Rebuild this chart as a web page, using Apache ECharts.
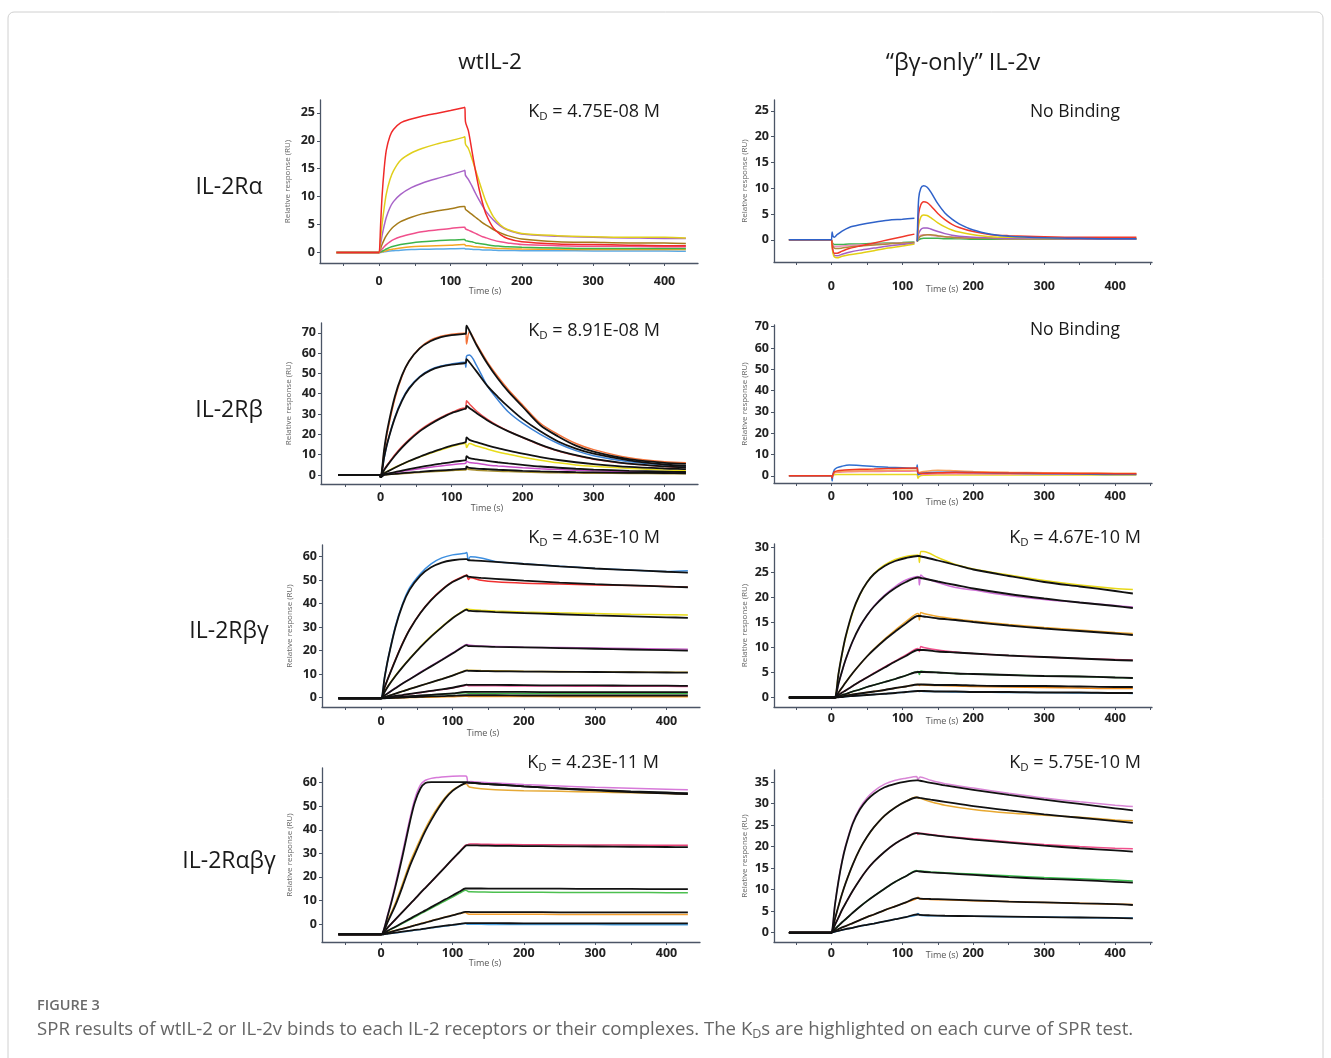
<!DOCTYPE html>
<html>
<head>
<meta charset="utf-8">
<title>SPR sensorgrams</title>
<script src="https://cdn.jsdelivr.net/npm/echarts@6.0.0/dist/echarts.min.js"></script>
<style>
  body { margin: 0; background: #fff; }
  #main { width: 1331px; height: 1058px; }
</style>
</head>
<body>
<div id="main"></div>
<script>
// ---- tick labels ----
var xLabelVals = [0, 100, 200, 300, 400];
var xTickVals = [-50, 0, 50, 100, 150, 200, 250, 300, 350, 400, 450];
var yLabels25 = [0, 5, 10, 15, 20, 25];
var yLabels70 = [0, 10, 20, 30, 40, 50, 60, 70];
var yLabels60 = [0, 10, 20, 30, 40, 50, 60];
var yLabels30 = [0, 5, 10, 15, 20, 25, 30];
var yLabels35 = [0, 5, 10, 15, 20, 25, 30, 35];

// ---- panel 1 : wtIL-2 / IL-2Ra ----
var t1 = [-60, -30, -1, 0, 2, 4, 7, 10, 15, 20, 30, 45, 60, 80, 100, 118, 120, 121, 125, 130, 135, 140, 145, 150, 160, 170, 180, 200, 250, 300, 350, 400, 430];
var p1Red = [0, 0, 0, 0, 5, 10, 15, 18.3, 20.8, 22, 23.2, 23.9, 24.4, 24.9, 25.4, 25.9, 26, 23.4, 21.8, 18.2, 14.6, 11.4, 8.8, 6.8, 4.4, 3.2, 2.5, 1.9, 1.5, 1.4, 1.3, 1.2, 1.2];
var p1Yellow = [0, 0, 0, 0, 2.5, 5, 8, 10.5, 13, 14.6, 16.5, 17.8, 18.6, 19.4, 20, 20.6, 20.7, 19.4, 18.6, 16.8, 14.8, 12.8, 10.8, 9.0, 6.4, 4.9, 4.1, 3.4, 3.0, 2.8, 2.7, 2.7, 2.6];
var p1Purple = [0, 0, 0, 0, 1.5, 3, 4.8, 6.3, 8, 9.1, 10.4, 11.6, 12.4, 13.2, 13.9, 14.6, 14.7, 13.8, 13.1, 11.9, 10.6, 9.4, 8.3, 7.3, 5.8, 4.7, 4.0, 3.3, 2.9, 2.7, 2.6, 2.5, 2.5];
var p1Brown = [0, 0, 0, 0, 0.7, 1.4, 2.3, 3.0, 3.9, 4.6, 5.5, 6.3, 6.9, 7.4, 7.8, 8.2, 8.2, 7.7, 7.3, 6.8, 6.3, 5.8, 5.3, 4.9, 4.1, 3.5, 3.0, 2.4, 1.9, 1.8, 1.7, 1.7, 1.6];
var p1Pink = [0, 0, 0, 0, 0.3, 0.6, 1.0, 1.4, 1.9, 2.3, 2.8, 3.3, 3.7, 4.0, 4.3, 4.5, 4.5, 4.2, 4.0, 3.7, 3.4, 3.1, 2.8, 2.6, 2.2, 1.9, 1.7, 1.4, 1.2, 1.1, 1.1, 1.0, 1.0];
var p1Green = [0, 0, 0, 0, 0.1, 0.2, 0.4, 0.6, 0.9, 1.1, 1.4, 1.7, 1.9, 2.1, 2.2, 2.3, 2.3, 2.1, 2.0, 1.9, 1.7, 1.6, 1.5, 1.4, 1.2, 1.1, 1.0, 0.9, 0.8, 0.7, 0.7, 0.7, 0.7];
var p1Orange = [0, 0, 0, 0, 0.05, 0.1, 0.2, 0.3, 0.5, 0.6, 0.8, 1.0, 1.1, 1.2, 1.3, 1.4, 1.4, 1.2, 1.2, 1.1, 1.0, 0.95, 0.9, 0.85, 0.75, 0.7, 0.65, 0.6, 0.55, 0.5, 0.5, 0.5, 0.5];
var p1Blue = [0, 0, 0, 0, 0, 0.05, 0.1, 0.15, 0.25, 0.3, 0.4, 0.5, 0.55, 0.6, 0.65, 0.7, 0.7, 0.6, 0.6, 0.55, 0.5, 0.5, 0.45, 0.45, 0.4, 0.35, 0.35, 0.3, 0.3, 0.25, 0.25, 0.25, 0.2];

// ---- panel 2 : IL-2v / IL-2Ra (no binding) ----
var t2 = [-60, -30, -1, 0, 1, 2, 4, 8, 15, 25, 40, 60, 80, 100, 117, 119, 121, 123, 126, 130, 135, 140, 150, 160, 170, 180, 200, 225, 250, 300, 350, 400, 430];
var p2Blue = [0, 0, 0, 0, 1.5, 0.8, 0.5, 1.0, 1.7, 2.4, 2.9, 3.4, 3.8, 4.0, 4.2, null, -0.3, 8.0, 10.0, 10.5, 10.2, 9.3, 7.0, 5.2, 4.0, 3.1, 1.9, 1.1, 0.7, 0.4, 0.3, 0.2, 0.2];
var p2Red = [0, 0, 0, 0, -1.0, -2.0, -2.6, -2.6, -2.2, -1.7, -1.2, -0.6, 0.0, 0.6, 1.1, null, -0.3, 5.0, 6.8, 7.4, 7.2, 6.6, 5.1, 3.9, 3.0, 2.4, 1.6, 1.0, 0.8, 0.6, 0.5, 0.5, 0.5];
var p2Yellow = [0, 0, 0, 0, -1.2, -2.5, -3.3, -3.5, -3.2, -2.9, -2.6, -2.1, -1.6, -1.2, -0.8, null, -0.3, 2.8, 4.4, 4.8, 4.7, 4.3, 3.3, 2.5, 1.9, 1.5, 1.0, 0.6, 0.5, 0.4, 0.3, 0.3, 0.3];
var p2Purple = [0, 0, 0, 0, -1.0, -2.2, -3.0, -3.1, -2.8, -2.4, -2.0, -1.6, -1.2, -0.9, -0.7, null, -0.3, 1.2, 2.0, 2.3, 2.3, 2.1, 1.6, 1.2, 0.9, 0.7, 0.5, 0.4, 0.3, 0.3, 0.2, 0.2, 0.2];
var p2Pink = [0, 0, 0, 0, -0.5, -1.0, -1.3, -1.3, -1.2, -1.1, -1.0, -0.9, -0.7, -0.6, -0.5, null, -0.3, 0.5, 0.9, 1.0, 1.0, 0.9, 0.7, 0.6, 0.5, 0.4, 0.3, 0.3, 0.2, 0.2, 0.2, 0.2, 0.2];
var p2Green = [0, 0, 0, 0, -0.4, -0.7, -0.9, -0.9, -0.9, -0.8, -0.8, -0.7, -0.6, -0.5, -0.4, null, -0.3, 0.0, 0.2, 0.3, 0.3, 0.3, 0.3, 0.2, 0.2, 0.2, 0.1, 0.1, 0.1, 0.1, 0.1, 0.1, 0.1];
var p2Brown = [0, 0, 0, 0, -0.6, -1.2, -1.6, -1.7, -1.6, -1.4, -1.2, -1.0, -0.8, -0.6, -0.5, null, -0.3, 0.3, 0.7, 0.9, 1.0, 1.0, 0.8, 0.6, 0.5, 0.4, 0.3, 0.3, 0.2, 0.2, 0.2, 0.2, 0.2];

// ---- panel 3 : wtIL-2 / IL-2Rb (data + fits) ----
var t3 = [-60, -30, -1, 0, 5, 10, 20, 30, 40, 55, 70, 85, 100, 118, 120, 121, 125, 135, 150, 165, 180, 200, 225, 250, 275, 300, 350, 400, 430];
var d3Orange = [0, 0, 0, 0, 11.5, 22, 37.5, 48.5, 56, 62.5, 66.3, 68.3, 69.3, 69.8, 69.8, 64.5, 70.5, 64.5, 55.8, 48.5, 42, 34.5, 25.5, 20, 15.5, 12.5, 8.5, 6.5, 6.0];
var f3Orange = [0, 0, 0, -1, 12.8, 23.3, 38.6, 49.0, 56.0, 62.3, 65.8, 67.8, 68.8, 69.4, 69.5, 73.5, 71.0, 64.0, 55.0, 47.5, 41.0, 33.6, 24.5, 19.0, 14.5, 11.5, 7.8, 6.0, 5.5];
var d3Blue = [0, 0, 0, 0, 8.5, 16.5, 28.5, 37, 43, 48.5, 51.8, 53.6, 54.6, 55.5, 53.0, 58.5, 59.0, 54.0, 44.0, 37.0, 31.0, 25.5, 20.0, 15.5, 12.0, 9.5, 6.5, 5.0, 4.5];
var f3Blue = [0, 0, 0, -1, 8.8, 16.5, 28, 36.5, 42.5, 48.2, 51.5, 53.3, 54.3, 55.0, 55.2, 57.0, 55.5, 51.0, 44.0, 38.5, 33.5, 27.5, 21.5, 16.5, 13.0, 10.5, 7.2, 5.2, 4.5];
var d3Red = [0, 0, 0, 0, 2.8, 5.3, 10, 14, 17.5, 22, 25.5, 28.4, 30.8, 33.0, 32.5, 36.5, 35.0, 31.5, 27.5, 24.3, 21.6, 18.5, 14.8, 11.8, 9.6, 7.8, 5.5, 4.2, 3.7];
var f3Red = [0, 0, 0, -1, 2.5, 5, 9.5, 13.5, 17, 21.5, 25, 28, 30.5, 32.5, 32.7, 34.0, 33.0, 30.5, 27.0, 24.0, 21.5, 18.5, 15.0, 12.0, 9.8, 8.0, 5.6, 4.3, 3.8];
var d3Yellow = [0, 0, 0, 0, 0.9, 1.9, 3.7, 5.3, 6.8, 8.8, 10.7, 12.4, 14.0, 15.5, 15.3, 13.5, 15.5, 14.3, 12.8, 11.3, 10.2, 8.8, 7.3, 6.0, 5.0, 4.3, 3.2, 2.5, 2.2];
var f3Yellow = [0, 0, 0, -1, 0.8, 1.8, 3.6, 5.3, 6.9, 9.0, 11.0, 12.8, 14.5, 16.0, 16.2, 18.5, 17.3, 16.2, 14.6, 13.2, 12.0, 10.5, 8.8, 7.4, 6.3, 5.4, 4.0, 3.2, 2.9];
var d3Magenta = [0, 0, 0, 0, 0.3, 0.6, 1.2, 1.8, 2.3, 3.1, 3.8, 4.5, 5.1, 5.7, 5.8, 6.8, 6.2, 5.8, 5.0, 4.5, 4.1, 3.6, 3.1, 2.7, 2.4, 2.1, 1.7, 1.4, 1.3];
var f3Magenta = [0, 0, 0, -1, 0.3, 0.7, 1.5, 2.2, 2.9, 3.9, 4.8, 5.6, 6.4, 7.2, 7.3, 9.3, 8.3, 7.7, 7.0, 6.3, 5.7, 5.0, 4.2, 3.6, 3.1, 2.7, 2.1, 1.7, 1.5];
var d3Olive = [0, 0, 0, 0, 0.1, 0.2, 0.5, 0.7, 0.9, 1.3, 1.6, 1.9, 2.2, 2.5, 2.5, 3.2, 2.7, 2.4, 2.1, 1.9, 1.7, 1.5, 1.3, 1.1, 1.0, 0.9, 0.8, 0.7, 0.7];
var f3Olive = [0, 0, 0, -1, 0.1, 0.3, 0.6, 0.9, 1.2, 1.6, 2.0, 2.3, 2.6, 3.0, 3.0, 4.2, 3.5, 3.2, 2.9, 2.6, 2.4, 2.1, 1.8, 1.6, 1.4, 1.3, 1.1, 1.0, 0.9];

// ---- panel 4 : IL-2v / IL-2Rb (no binding) ----
var t4 = [-60, -30, -1, 0, 1, 2, 4, 8, 15, 25, 40, 60, 80, 100, 118, 120, 121, 122, 124, 130, 150, 175, 200, 250, 300, 350, 400, 430];
var p4Blue = [0, 0, 0, 0, -2.5, 0.5, 2.8, 3.8, 4.5, 5.0, 4.8, 4.3, 4.0, 3.8, 3.5, 3.6, 5.0, 0.5, 0.8, 1.3, 1.6, 1.6, 1.5, 1.2, 1.0, 0.8, 0.6, 0.6];
var p4Red = [0, 0, 0, 0, -1.0, 0.5, 1.8, 2.3, 2.6, 2.8, 3.0, 3.2, 3.4, 3.5, 3.6, 3.6, 3.8, 1.5, 1.2, 1.2, 1.4, 1.6, 1.5, 1.3, 1.2, 1.1, 1.0, 1.0];
var p4Orange = [0, 0, 0, 0, -0.5, 0.5, 1.5, 1.9, 2.1, 2.2, 2.3, 2.4, 2.5, 2.6, 2.6, 2.6, 2.8, 1.2, 1.5, 2.0, 2.6, 2.3, 2.0, 1.6, 1.4, 1.3, 1.2, 1.2];
var p4Pink = [0, 0, 0, 0, -0.3, 0.4, 1.2, 1.6, 1.8, 1.9, 2.0, 2.0, 2.1, 2.1, 2.2, 2.2, 2.4, 0.6, 0.6, 0.7, 0.9, 0.9, 0.9, 0.8, 0.8, 0.7, 0.7, 0.7];
var p4Yellow = [0, 0, 0, 0, -0.5, 0.2, 0.5, 0.6, 0.6, 0.6, 0.6, 0.6, 0.6, 0.6, 0.6, 0.6, 0.5, -1.2, -0.3, 0.2, 0.3, 0.3, 0.3, 0.3, 0.3, 0.3, 0.3, 0.3];

// ---- panel 5 : wtIL-2 / IL-2Rbg ----
var t5 = [-60, -30, -1, 0, 5, 10, 20, 30, 40, 55, 70, 85, 100, 118, 120, 122, 125, 140, 160, 200, 250, 300, 350, 400, 430];
var d5Blue = [-0.3, -0.3, -0.3, -0.3, 9, 17.2, 30.5, 40, 46.8, 52.8, 57, 59.5, 60.8, 61.5, 61.8, 58.5, 60, 59.5, 58, 57, 56, 55, 54.3, 53.7, 54];
var f5Blue = [-0.3, -0.3, -0.3, -0.3, 9, 17, 30, 39.5, 46, 52, 55.5, 57.5, 58.5, 59, 59, 58.6, 58.5, 58.2, 57.8, 56.9, 55.9, 55.0, 54.3, 53.6, 53.2];
var d5Red = [-0.3, -0.3, -0.3, -0.3, 4.5, 8.6, 16.2, 23.2, 29.2, 36.2, 41.7, 46, 49.4, 52, 52.2, 50.3, 51, 50, 49.3, 48.7, 48.4, 48, 47.7, 47.3, 47.0];
var f5Red = [-0.3, -0.3, -0.3, -0.3, 4.5, 8.5, 16, 23, 29, 36, 41.5, 45.8, 49.2, 51.8, 52, 51.5, 51.4, 51, 50.6, 49.8, 49, 48.3, 47.8, 47.3, 47.0];
var d5Yellow = [-0.3, -0.3, -0.3, -0.3, 2.6, 5.1, 9.4, 13.2, 16.7, 21.7, 26.2, 30.2, 34, 37.6, 37.8, 37.6, 37.5, 37.2, 36.9, 36.5, 36.1, 35.8, 35.5, 35.3, 35.2];
var f5Yellow = [-0.3, -0.3, -0.3, -0.3, 2.5, 5, 9.2, 13, 16.5, 21.5, 26, 30, 33.8, 37.3, 37.5, 37.0, 36.9, 36.7, 36.4, 36, 35.5, 35, 34.6, 34.2, 34.0];
var d5Magenta = [-0.3, -0.3, -0.3, -0.3, 1.0, 2.0, 4.1, 6.1, 7.9, 10.8, 13.5, 16.2, 19.0, 22.5, 22.6, 22.5, 22.3, 22.0, 21.8, 21.5, 21.3, 21.1, 20.9, 20.7, 20.6];
var f5Magenta = [-0.3, -0.3, -0.3, -0.3, 1.0, 2.0, 4.0, 6.0, 7.8, 10.6, 13.3, 16.0, 18.8, 22.2, 22.3, 21.9, 21.9, 21.8, 21.6, 21.4, 21.1, 20.8, 20.5, 20.2, 20.0];
var d5Olive = [-0.3, -0.3, -0.3, -0.3, 0.2, 0.7, 1.7, 2.7, 3.7, 5.1, 6.5, 7.9, 9.4, 11.6, 11.7, 11.6, 11.6, 11.5, 11.4, 11.2, 11.1, 11.0, 10.9, 10.8, 10.8];
var f5Olive = [-0.3, -0.3, -0.3, -0.3, 0.2, 0.7, 1.7, 2.7, 3.7, 5.1, 6.5, 7.9, 9.4, 11.4, 11.5, 11.4, 11.4, 11.3, 11.2, 11.1, 11.0, 10.9, 10.8, 10.7, 10.6];
var d5Pink = [-0.3, -0.3, -0.3, -0.3, 0.0, 0.2, 0.6, 1.0, 1.5, 2.1, 2.8, 3.4, 4.1, 5.2, 5.3, 5.1, 5.1, 5.0, 5.0, 4.9, 4.9, 4.8, 4.8, 4.8, 4.7];
var f5Pink = [-0.3, -0.3, -0.3, -0.3, 0.0, 0.2, 0.7, 1.1, 1.6, 2.2, 2.9, 3.5, 4.2, 5.4, 5.5, 5.4, 5.4, 5.4, 5.4, 5.3, 5.2, 5.2, 5.1, 5.1, 5.0];
var d5Green = [-0.3, -0.3, -0.3, -0.3, -0.2, -0.1, 0.1, 0.3, 0.5, 0.8, 1.1, 1.4, 1.7, 2.1, 2.0, 1.9, 1.9, 1.8, 1.8, 1.8, 1.7, 1.7, 1.7, 1.7, 1.7];
var f5Green = [-0.3, -0.3, -0.3, -0.3, -0.2, -0.1, 0.2, 0.4, 0.6, 0.9, 1.2, 1.5, 1.8, 2.4, 2.4, 2.4, 2.4, 2.4, 2.4, 2.4, 2.3, 2.3, 2.3, 2.3, 2.3];
var d5Orange = [-0.3, -0.3, -0.3, -0.3, -0.3, -0.3, -0.2, -0.1, 0.0, 0.1, 0.2, 0.3, 0.4, 0.6, 0.6, 0.5, 0.5, 0.5, 0.5, 0.5, 0.4, 0.4, 0.4, 0.4, 0.4];
var f5Orange = [-0.3, -0.3, -0.3, -0.3, -0.3, -0.2, -0.1, 0.0, 0.2, 0.3, 0.5, 0.6, 0.8, 1.0, 1.0, 1.0, 1.0, 1.0, 1.0, 0.9, 0.9, 0.9, 0.9, 0.9, 0.9];

// ---- panel 6 : IL-2v / IL-2Rbg ----
var t6 = [-60, -30, 4, 5, 10, 15, 20, 30, 40, 50, 60, 75, 90, 105, 122, 124, 126, 130, 150, 175, 200, 250, 300, 350, 400, 425];
var d6Yellow = [0, 0, 0, 0, 4.8, 8.7, 12.0, 17.0, 20.5, 23, 24.8, 26.5, 27.6, 28.2, 28.5, 27.0, 29.2, 29.2, 28.0, 26.6, 25.7, 24.5, 23.4, 22.5, 21.8, 21.6];
var f6Yellow = [0, 0, 0, 0, 4.8, 8.8, 12.2, 17.2, 20.6, 23, 24.7, 26.3, 27.3, 27.9, 28.3, 28.3, 28.2, 28.1, 27.4, 26.5, 25.6, 24.3, 23.1, 22.2, 21.3, 20.8];
var d6Magenta = [0, 0, 0, 0, 2.8, 5.2, 7.5, 11.2, 14.1, 16.4, 18.3, 20.5, 22.2, 23.5, 24.2, 22.5, 24.5, 24.0, 23.0, 22.0, 21.5, 20.4, 19.6, 19.0, 18.4, 18.1];
var f6Magenta = [0, 0, 0, 0, 2.8, 5.3, 7.6, 11.3, 14.2, 16.4, 18.2, 20.3, 21.9, 23.1, 24.0, 24.0, 23.9, 23.8, 23.2, 22.5, 21.8, 20.7, 19.8, 19.0, 18.3, 17.9];
var d6Orange = [0, 0, 0, 0, 1.0, 2.0, 3.0, 4.9, 6.6, 8.2, 9.7, 11.7, 13.5, 15.2, 16.8, 15.5, 17.0, 16.8, 16.2, 15.7, 15.3, 14.6, 14.0, 13.5, 13.0, 12.8];
var f6Orange = [0, 0, 0, 0, 1.0, 2.0, 3.0, 4.9, 6.6, 8.2, 9.6, 11.5, 13.2, 14.8, 16.3, 16.3, 16.3, 16.2, 15.8, 15.5, 15.1, 14.4, 13.8, 13.3, 12.8, 12.5];
var d6Pink = [0, 0, 0, 0, 0.5, 1.0, 1.4, 2.3, 3.2, 4.0, 4.9, 6.1, 7.3, 8.5, 9.8, 9.2, 10.2, 10.0, 9.5, 9.1, 8.8, 8.4, 8.1, 7.8, 7.6, 7.5];
var f6Pink = [0, 0, 0, 0, 0.5, 1.0, 1.4, 2.3, 3.2, 4.0, 4.8, 6.0, 7.2, 8.3, 9.5, 9.5, 9.5, 9.5, 9.2, 9.0, 8.8, 8.4, 8.1, 7.8, 7.5, 7.4];
var d6Green = [0, 0, 0, 0, 0.2, 0.5, 0.7, 1.2, 1.6, 2.1, 2.5, 3.1, 3.7, 4.4, 5.2, 4.6, 5.3, 5.2, 5.0, 4.8, 4.7, 4.5, 4.3, 4.2, 4.0, 3.9];
var f6Green = [0, 0, 0, 0, 0.2, 0.5, 0.7, 1.2, 1.6, 2.1, 2.5, 3.1, 3.7, 4.4, 5.1, 5.1, 5.1, 5.1, 5.0, 4.8, 4.7, 4.5, 4.3, 4.2, 4.0, 3.9];
var d6Amber = [0, 0, 0, 0, 0.1, 0.2, 0.4, 0.6, 0.8, 1.0, 1.2, 1.5, 1.9, 2.2, 2.6, 2.4, 2.6, 2.5, 2.4, 2.3, 2.2, 2.1, 2.0, 1.9, 1.8, 1.8];
var f6Amber = [0, 0, 0, 0, 0.1, 0.2, 0.4, 0.6, 0.8, 1.0, 1.2, 1.5, 1.9, 2.2, 2.6, 2.6, 2.6, 2.6, 2.5, 2.5, 2.4, 2.3, 2.3, 2.2, 2.1, 2.1];
var d6Blue = [0, 0, 0, 0, 0.05, 0.1, 0.2, 0.3, 0.4, 0.5, 0.6, 0.75, 0.9, 1.1, 1.3, 1.2, 1.3, 1.2, 1.2, 1.1, 1.1, 1.0, 1.0, 0.9, 0.9, 0.8];
var f6Blue = [0, 0, 0, 0, 0.05, 0.1, 0.2, 0.3, 0.4, 0.5, 0.6, 0.75, 0.9, 1.1, 1.3, 1.3, 1.3, 1.3, 1.2, 1.2, 1.1, 1.1, 1.0, 1.0, 0.9, 0.9];

// ---- panel 7 : wtIL-2 / IL-2Rabg ----
var t7 = [-60, -30, -1, 0, 10, 20, 30, 40, 47, 55, 62, 70, 80, 90, 100, 110, 118, 120, 122, 125, 140, 160, 200, 250, 300, 350, 400, 430];
var d7Magenta = [-4.4, -4.4, -4.4, -4.4, 5.0, 17, 30.5, 44.5, 53, 59, 61, 61.8, 62.2, 62.5, 62.7, 62.8, 62.8, 62.5, 59.5, 60.5, 60.2, 59.8, 59.2, 58.6, 58.0, 57.6, 57.2, 57.0];
var f7Magenta = [-4.4, -4.4, -4.4, -4.4, 4.5, 16, 29, 43, 51.5, 57.5, 59.8, 60.2, 60.2, 60.2, 60.2, 60.2, 60.2, 60.2, 60.1, 60.0, 59.6, 59.2, 58.4, 57.6, 56.9, 56.3, 55.8, 55.5];
var d7Gold = [-4.4, -4.4, -4.4, -4.4, 2.0, 9, 17.2, 25.8, 30.8, 36.2, 40.5, 45, 49.8, 53.8, 56.8, 58.6, 59.5, 59.3, 58.5, 58.0, 57.4, 57.0, 56.6, 56.3, 56.0, 55.7, 55.4, 55.2];
var f7Gold = [-4.4, -4.4, -4.4, -4.4, 1.5, 8, 16, 24.5, 29.5, 35, 39.5, 44, 49, 53.3, 56.5, 58.6, 59.8, 60.0, 60.0, 59.9, 59.6, 59.2, 58.4, 57.5, 56.7, 56.0, 55.4, 55.1];
var d7Pink = [-4.4, -4.4, -4.4, -4.4, -1.2, 2.0, 5.2, 8.4, 10.6, 13.2, 15.4, 17.9, 21.1, 24.3, 27.5, 30.7, 33.4, 33.6, 33.8, 34.0, 33.9, 33.8, 33.7, 33.6, 33.5, 33.5, 33.4, 33.4];
var f7Pink = [-4.4, -4.4, -4.4, -4.4, -1.2, 2.0, 5.2, 8.4, 10.6, 13.2, 15.4, 17.9, 21.1, 24.3, 27.5, 30.6, 33.1, 33.4, 33.4, 33.4, 33.3, 33.2, 33.1, 33.0, 32.9, 32.8, 32.7, 32.6];
var d7Green = [-4.4, -4.4, -4.4, -4.4, -2.8, -1.3, 0.3, 1.9, 3.0, 4.3, 5.4, 6.7, 8.3, 9.9, 11.5, 13.1, 14.4, 14.2, 13.8, 13.7, 13.6, 13.5, 13.5, 13.4, 13.4, 13.4, 13.3, 13.3];
var f7Green = [-4.4, -4.4, -4.4, -4.4, -2.7, -1.1, 0.6, 2.2, 3.4, 4.7, 5.8, 7.2, 8.8, 10.5, 12.1, 13.8, 15.1, 15.1, 15.1, 15.1, 15.1, 15.0, 15.0, 15.0, 14.9, 14.9, 14.8, 14.8];
var d7Orange = [-4.4, -4.4, -4.4, -4.4, -3.5, -2.7, -1.9, -1.1, -0.5, 0.2, 0.7, 1.4, 2.2, 3.0, 3.8, 4.5, 4.9, 4.6, 4.3, 4.2, 4.2, 4.2, 4.2, 4.1, 4.1, 4.1, 4.1, 4.1];
var f7Orange = [-4.4, -4.4, -4.4, -4.4, -3.6, -2.8, -2.0, -1.2, -0.6, 0.1, 0.6, 1.3, 2.1, 2.9, 3.7, 4.5, 5.2, 5.2, 5.2, 5.1, 5.1, 5.1, 5.1, 5.0, 5.0, 5.0, 5.0, 5.0];
var d7Blue = [-4.4, -4.4, -4.4, -4.4, -4.0, -3.7, -3.3, -2.9, -2.6, -2.3, -2.0, -1.6, -1.2, -0.8, -0.4, -0.1, 0.2, 0.0, -0.1, -0.1, -0.1, -0.2, -0.2, -0.2, -0.2, -0.3, -0.3, -0.3];
var f7Blue = [-4.4, -4.4, -4.4, -4.4, -4.0, -3.6, -3.2, -2.8, -2.5, -2.2, -1.9, -1.5, -1.1, -0.7, -0.3, 0.1, 0.4, 0.4, 0.4, 0.4, 0.4, 0.4, 0.3, 0.3, 0.3, 0.3, 0.3, 0.3];

// ---- panel 8 : IL-2v / IL-2Rabg ----
var t8 = [-60, -30, -1, 0, 5, 10, 15, 20, 30, 40, 50, 60, 75, 90, 105, 120, 122, 125, 140, 160, 200, 250, 300, 350, 400, 425];
var d8Magenta = [0, 0, 0, 0, 6.6, 12.2, 16.8, 20.3, 25.6, 29, 31.3, 32.9, 34.5, 35.4, 35.9, 36.3, 35.6, 36.2, 35.4, 34.6, 33.6, 32.4, 31.3, 30.4, 29.6, 29.3];
var f8Magenta = [0, 0, 0, 0, 6.5, 12, 16.5, 20, 25.3, 28.6, 30.8, 32.3, 33.8, 34.6, 35.1, 35.4, 35.4, 35.3, 34.8, 34.2, 33.2, 32.0, 30.9, 29.9, 28.9, 28.4];
var d8Gold = [0, 0, 0, 0, 3.2, 6.2, 9.0, 11.5, 15.8, 19.4, 22.2, 24.5, 27.2, 29.1, 30.5, 31.5, 31.3, 31.2, 30.4, 29.6, 28.6, 27.8, 27.3, 26.8, 26.2, 26.0];
var f8Gold = [0, 0, 0, 0, 3.2, 6.2, 9.0, 11.5, 15.8, 19.4, 22.2, 24.5, 27.2, 29.1, 30.5, 31.4, 31.4, 31.3, 30.9, 30.4, 29.4, 28.4, 27.5, 26.7, 25.9, 25.5];
var d8Pink = [0, 0, 0, 0, 1.8, 3.5, 5.3, 6.8, 9.7, 12.3, 14.6, 16.5, 18.8, 20.7, 22.2, 23.2, 22.8, 23.1, 22.8, 22.4, 21.8, 21.1, 20.5, 20.0, 19.6, 19.5];
var f8Pink = [0, 0, 0, 0, 1.8, 3.5, 5.3, 6.8, 9.7, 12.3, 14.6, 16.5, 18.8, 20.7, 22.1, 23.1, 23.1, 23.0, 22.7, 22.3, 21.6, 20.9, 20.2, 19.6, 19.1, 18.8];
var d8Green = [0, 0, 0, 0, 0.8, 1.6, 2.4, 3.1, 4.6, 6.0, 7.3, 8.5, 10.2, 11.8, 13.1, 14.4, 14.2, 14.3, 14.1, 13.9, 13.6, 13.2, 12.8, 12.5, 12.2, 12.0];
var f8Green = [0, 0, 0, 0, 0.8, 1.6, 2.4, 3.1, 4.6, 6.0, 7.3, 8.5, 10.2, 11.8, 13.1, 14.3, 14.3, 14.2, 14.0, 13.8, 13.4, 12.9, 12.5, 12.2, 11.8, 11.6];
var d8Orange = [0, 0, 0, 0, 0.4, 0.8, 1.2, 1.5, 2.2, 2.9, 3.6, 4.2, 5.2, 6.1, 7.0, 7.9, 8.2, 7.8, 7.7, 7.6, 7.4, 7.2, 7.0, 6.8, 6.6, 6.5];
var f8Orange = [0, 0, 0, 0, 0.4, 0.8, 1.2, 1.5, 2.2, 2.9, 3.6, 4.2, 5.2, 6.1, 7.0, 8.0, 8.0, 7.9, 7.8, 7.7, 7.5, 7.2, 7.0, 6.8, 6.6, 6.4];
var d8Blue = [0, 0, 0, 0, 0.2, 0.4, 0.6, 0.8, 1.1, 1.5, 1.8, 2.1, 2.6, 3.1, 3.6, 4.1, 4.4, 4.0, 3.9, 3.9, 3.8, 3.7, 3.6, 3.5, 3.4, 3.4];
var f8Blue = [0, 0, 0, 0, 0.2, 0.4, 0.6, 0.8, 1.1, 1.5, 1.8, 2.1, 2.6, 3.1, 3.6, 4.2, 4.2, 4.1, 4.0, 3.9, 3.8, 3.7, 3.6, 3.5, 3.4, 3.3];

// ---- texts ----
var columnTitles = ['wtIL-2', '\u201c\u03b2\u03b3-only\u201d IL-2v'];
var rowTitles = ['IL-2R\u03b1', 'IL-2R\u03b2', 'IL-2R\u03b2\u03b3', 'IL-2R\u03b1\u03b2\u03b3'];
var kdValues = ['4.75E-08', null, '8.91E-08', null, '4.63E-10', '4.67E-10', '4.23E-11', '5.75E-10'];

var FONT = '"Open Sans", "Noto Sans", sans-serif';
var AXIS = '#4b5566';
var FIT = '#111111';

// grid boxes and axis ranges for the 8 panels (left col, right col per row)
var layout = [
  { left: 320, top: 100, width: 378, height: 163, x: [-83, 447], y: [-1.9, 27.3], yl: yLabels25, margin: 12, gap: 28 },
  { left: 774, top: 100, width: 378, height: 162, x: [-81, 452], y: [-4.3, 27.1], yl: yLabels25, margin: 18, gap: 25 },
  { left: 321, top: 323, width: 377, height: 161, x: [-84, 447], y: [-4.4, 74.8], yl: yLabels70, margin: 7, gap: 28 },
  { left: 774, top: 325, width: 378, height: 158, x: [-81, 452], y: [-3.4, 70.8], yl: yLabels70, margin: 7, gap: 25 },
  { left: 322, top: 545, width: 378, height: 162, x: [-83, 447], y: [-4.0, 65], yl: yLabels60, margin: 8, gap: 28 },
  { left: 774, top: 544, width: 378, height: 163, x: [-81, 452], y: [-1.9, 30.7], yl: yLabels30, margin: 5, gap: 25 },
  { left: 322, top: 768, width: 378, height: 174, x: [-83, 447], y: [-7.6, 66.2], yl: yLabels60, margin: 5, gap: 28 },
  { left: 774, top: 770, width: 378, height: 172, x: [-81, 452], y: [-2.2, 37.8], yl: yLabels35, margin: 5, gap: 25 }
];

// [panel, times, values, colour]
var curves = [
  [0, t1, p1Blue, '#5aa9e6'], [0, t1, p1Orange, '#f5a623'], [0, t1, p1Green, '#3cb44b'], [0, t1, p1Pink, '#f0508c'],
  [0, t1, p1Brown, '#a67c1a'], [0, t1, p1Purple, '#a864c8'], [0, t1, p1Yellow, '#e0cf1c'], [0, t1, p1Red, '#f02a2a'],

  [1, t2, p2Green, '#3fb350'], [1, t2, p2Pink, '#f28cc0'], [1, t2, p2Brown, '#b08a3a'], [1, t2, p2Purple, '#a35fc5'],
  [1, t2, p2Yellow, '#e3cf14'], [1, t2, p2Red, '#f0392b'], [1, t2, p2Blue, '#2f62c9'],

  [2, t3, d3Olive, '#a89030'], [2, t3, d3Magenta, '#c94fc9'], [2, t3, d3Yellow, '#e8dc1a'], [2, t3, d3Red, '#f05050'],
  [2, t3, d3Blue, '#3b82d6'], [2, t3, d3Orange, '#f4733a'],
  [2, t3, f3Olive, FIT], [2, t3, f3Magenta, FIT], [2, t3, f3Yellow, FIT], [2, t3, f3Red, FIT], [2, t3, f3Blue, FIT], [2, t3, f3Orange, FIT],

  [3, t4, p4Yellow, '#e8d820'], [3, t4, p4Pink, '#f07aa0'], [3, t4, p4Orange, '#f7a35c'], [3, t4, p4Blue, '#2f6fd0'], [3, t4, p4Red, '#f03a20'],

  [4, t5, d5Orange, '#f59a23'], [4, t5, d5Green, '#3cb44b'], [4, t5, d5Pink, '#f0509a'], [4, t5, d5Olive, '#c8a628'],
  [4, t5, d5Magenta, '#c860c8'], [4, t5, d5Yellow, '#e8dc1a'], [4, t5, d5Red, '#f03030'], [4, t5, d5Blue, '#3d8fe0'],
  [4, t5, f5Orange, FIT], [4, t5, f5Green, FIT], [4, t5, f5Pink, FIT], [4, t5, f5Olive, FIT],
  [4, t5, f5Magenta, FIT], [4, t5, f5Yellow, FIT], [4, t5, f5Red, FIT], [4, t5, f5Blue, FIT],

  [5, t6, d6Blue, '#4aa3e6'], [5, t6, d6Amber, '#f08a1a'], [5, t6, d6Green, '#3cb44b'], [5, t6, d6Pink, '#f0508c'],
  [5, t6, d6Orange, '#f0a830'], [5, t6, d6Magenta, '#d070d8'], [5, t6, d6Yellow, '#e8d81a'],
  [5, t6, f6Blue, FIT], [5, t6, f6Amber, FIT], [5, t6, f6Green, FIT], [5, t6, f6Pink, FIT],
  [5, t6, f6Orange, FIT], [5, t6, f6Magenta, FIT], [5, t6, f6Yellow, FIT],

  [6, t7, d7Blue, '#4aa3e6'], [6, t7, d7Orange, '#f5a030'], [6, t7, d7Green, '#4cc050'], [6, t7, d7Pink, '#e8457a'],
  [6, t7, d7Gold, '#e6a935'], [6, t7, d7Magenta, '#d779d9'],
  [6, t7, f7Blue, FIT], [6, t7, f7Orange, FIT], [6, t7, f7Green, FIT], [6, t7, f7Pink, FIT], [6, t7, f7Gold, FIT], [6, t7, f7Magenta, FIT],

  [7, t8, d8Blue, '#3a9ae6'], [7, t8, d8Orange, '#f08a1a'], [7, t8, d8Green, '#3cc050'], [7, t8, d8Pink, '#f0508c'],
  [7, t8, d8Gold, '#e8a830'], [7, t8, d8Magenta, '#d986d6'],
  [7, t8, f8Blue, FIT], [7, t8, f8Orange, FIT], [7, t8, f8Green, FIT], [7, t8, f8Pink, FIT], [7, t8, f8Gold, FIT], [7, t8, f8Magenta, FIT]
];

function pairs(t, v) {
  return t.map(function (x, i) { return [x, v[i] == null ? '-' : v[i]]; });
}

var chart = echarts.init(document.getElementById('main'));

var grids = layout.map(function (g) {
  return { left: g.left, top: g.top, width: g.width, height: g.height };
});

var xAxes = layout.map(function (g, i) {
  return {
    type: 'value', gridIndex: i, min: g.x[0], max: g.x[1],
    axisLine: { onZero: false, lineStyle: { color: AXIS, width: 1.3 } },
    axisTick: { customValues: xTickVals, length: 3, lineStyle: { color: AXIS } },
    axisLabel: { customValues: xLabelVals, margin: g.margin, fontSize: 12.5, fontWeight: 'bold', color: '#222', fontFamily: FONT },
    splitLine: { show: false }
  };
});

var yAxes = layout.map(function (g, i) {
  return {
    type: 'value', gridIndex: i, min: g.y[0], max: g.y[1],
    name: 'Relative response (RU)', nameLocation: 'middle', nameRotate: 90, nameGap: g.gap,
    nameTextStyle: { fontSize: 8, color: '#666', fontFamily: FONT },
    axisLine: { onZero: false, lineStyle: { color: AXIS, width: 1.3 } },
    axisTick: { customValues: g.yl, length: 3, lineStyle: { color: AXIS } },
    axisLabel: { customValues: g.yl, margin: 5, fontSize: 12.5, fontWeight: 'bold', color: '#222', fontFamily: FONT },
    splitLine: { show: false }
  };
});

var series = curves.map(function (c) {
  var fit = c[3] === FIT;
  return {
    type: 'line', xAxisIndex: c[0], yAxisIndex: c[0],
    data: pairs(c[1], c[2]),
    showSymbol: false, symbol: 'none', smooth: 0.3, silent: true,
    lineStyle: { color: c[3], width: fit ? 1.8 : 1.5 },
    z: fit ? 3 : 2
  };
});

function txt(text, x, y, size, align, color, weight) {
  return {
    type: 'text', x: x, y: y, silent: true,
    style: {
      text: text, fill: color || '#1a1a1a',
      font: (weight || 'normal') + ' ' + size + 'px ' + FONT,
      textAlign: align || 'center', textVerticalAlign: 'middle'
    }
  };
}

function kd(value, x, y) {
  return {
    type: 'text', x: x, y: y, silent: true,
    style: {
      text: '{a|K}{b|D}{a| = ' + value + ' M}', fill: '#1a1a1a',
      textAlign: 'right', textVerticalAlign: 'middle',
      rich: {
        a: { fontSize: 18, fontFamily: FONT, lineHeight: 24 },
        b: { fontSize: 11.5, fontFamily: FONT, lineHeight: 24, padding: [9, 0, 0, 0] }
      }
    }
  };
}

var timePos = [[485, 291], [942, 289], [487, 508], [942, 502], [483, 733], [942, 721], [485, 963], [942, 955]];
var kdPos = [[660, 112], [1120, 112], [660, 331], [1120, 330], [660, 538], [1141, 538], [659, 763], [1141, 763]];
var rowY = [187, 410, 631, 861];

var graphics = [
  { type: 'rect', silent: true, z: -10, shape: { x: 8, y: 12, width: 1315, height: 1100, r: 6 }, style: { fill: 'none', stroke: '#d0d0d0', lineWidth: 1 } },
  txt(columnTitles[0], 490, 63, 22.5),
  txt(columnTitles[1], 963, 63, 23.5)
];
rowTitles.forEach(function (r, i) { graphics.push(txt(r, 229, rowY[i], 23)); });
timePos.forEach(function (p) { graphics.push(txt('Time (s)', p[0], p[1], 9, 'center', '#555')); });
kdValues.forEach(function (v, i) {
  if (v) graphics.push(kd(v, kdPos[i][0], kdPos[i][1]));
  else graphics.push(txt('No Binding', kdPos[i][0], kdPos[i][1], 17.5, 'right'));
});
graphics.push(txt('FIGURE 3', 37, 1006, 14.5, 'left', '#6b6b6b', '600'));
graphics.push({
  type: 'text', x: 37, y: 1030, silent: true,
  style: {
    text: '{a|SPR results of wtIL-2 or IL-2v binds to each IL-2 receptors or their complexes. The K}{b|D}{a|s are highlighted on each curve of SPR test.}',
    fill: '#666', textAlign: 'left', textVerticalAlign: 'middle',
    rich: {
      a: { fontSize: 18.6, fontFamily: FONT, lineHeight: 24 },
      b: { fontSize: 12.5, fontFamily: FONT, lineHeight: 24, padding: [9, 0, 0, 0] }
    }
  }
});

chart.setOption({
  animation: false,
  backgroundColor: '#ffffff',
  grid: grids,
  xAxis: xAxes,
  yAxis: yAxes,
  series: series,
  graphic: { elements: graphics }
});
</script>
</body>
</html>
